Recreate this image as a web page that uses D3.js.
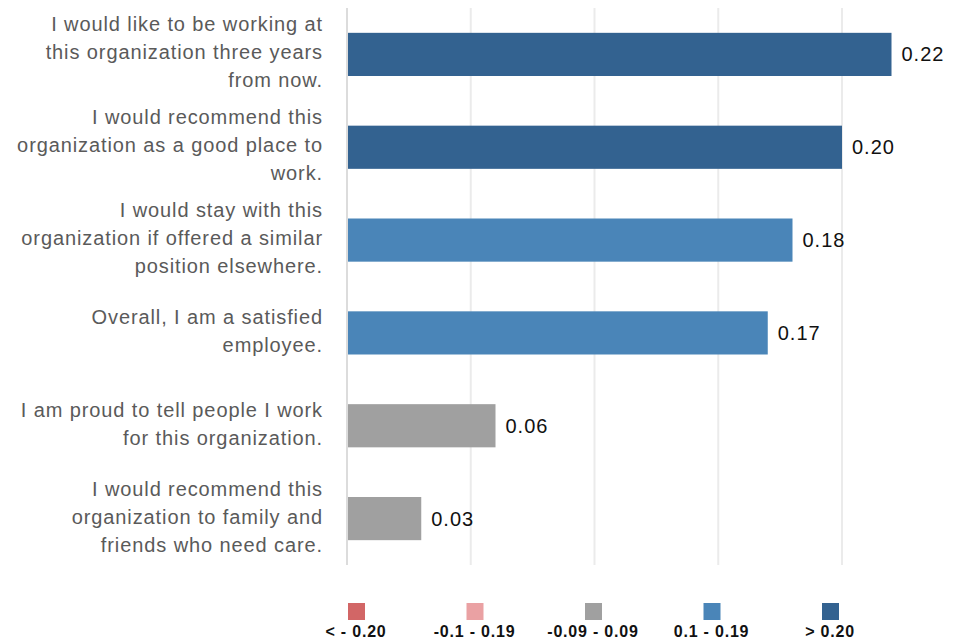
<!DOCTYPE html>
<html>
<head>
<meta charset="utf-8">
<script src="https://cdn.jsdelivr.net/npm/d3@7"></script>
<style>
  body { margin: 0; background: #fff; }
  svg { font-family: "Liberation Sans", Arial, sans-serif; }
</style>
</head>
<body>
<svg id="svg" width="961" height="639"></svg>
<script>
const statements = [
  ['I would like to be working at', 'this organization three years', 'from now.'],
  ['I would recommend this', 'organization as a good place to', 'work.'],
  ['I would stay with this', 'organization if offered a similar', 'position elsewhere.'],
  ['Overall, I am a satisfied', 'employee.'],
  ['I am proud to tell people I work', 'for this organization.'],
  ['I would recommend this', 'organization to family and', 'friends who need care.']
]
const values = [0.22, 0.20, 0.18, 0.17, 0.06, 0.03]
const ticks = [0, 0.05, 0.10, 0.15, 0.20]

const legendLabels = ['< - 0.20', '-0.1 - 0.19', '-0.09 - 0.09', '0.1 - 0.19', '> 0.20']
const legendColours = ['#d26666', '#eaa1a3', '#a0a0a0', '#4a85b8', '#336290']

const colourFor = v => {
  if (v < -0.2) return legendColours[0]
  if (v < -0.09) return legendColours[1]
  if (v < 0.1) return legendColours[2]
  if (v < 0.2) return legendColours[3]
  return legendColours[4]
}

const margin = { top: 8, bottom: 74, left: 347 }
const height = 639

const xScale = d3.scaleLinear()
  .domain([0, 0.2])
  .range([margin.left, 842])

const yScale = d3.scaleBand()
  .domain(d3.range(values.length))
  .range([margin.top, height - margin.bottom])
  .paddingInner(0.535)
  .paddingOuter(0.2675)

const svg = d3.select('#svg')

// gridlines
svg.append('g')
  .selectAll('line')
  .data(ticks)
  .enter()
  .append('line')
  .attr('x1', d => xScale(d))
  .attr('x2', d => xScale(d))
  .attr('y1', margin.top)
  .attr('y2', height - margin.bottom)
  .attr('stroke', d => d === 0 ? '#dcdcdc' : '#ebebeb')
  .attr('stroke-width', 2)

const rows = svg.append('g')
  .selectAll('g')
  .data(values)
  .enter()
  .append('g')

rows.append('rect')
  .attr('x', xScale(0) + 1)
  .attr('y', (d, i) => yScale(i))
  .attr('width', d => xScale(d) - xScale(0) - 1)
  .attr('height', yScale.bandwidth())
  .attr('fill', d => colourFor(d))

rows.append('text')
  .attr('x', d => xScale(d) + 10)
  .attr('y', (d, i) => yScale(i) + yScale.bandwidth() / 2)
  .attr('dy', '0.35em')
  .attr('font-size', 20)
  .attr('letter-spacing', 1)
  .attr('fill', '#111')
  .text(d => d.toFixed(2))

// category labels
const lineHeight = 28
rows.append('text')
  .attr('text-anchor', 'end')
  .attr('font-size', 20)
  .attr('letter-spacing', 0.9)
  .attr('fill', '#5a5a5a')
  .each(function (d, i) {
    const lines = statements[i]
    const cy = yScale(i) + yScale.bandwidth() / 2 - 2
    d3.select(this).selectAll('tspan')
      .data(lines)
      .enter()
      .append('tspan')
      .attr('x', 323)
      .attr('y', (t, j) => cy + (j - (lines.length - 1) / 2) * lineHeight)
      .attr('dy', '0.35em')
      .text(t => t)
  })

// legend
const legendX = d3.scalePoint()
  .domain(legendLabels)
  .range([356, 830])

const legend = svg.append('g')
  .selectAll('g')
  .data(legendLabels)
  .enter()
  .append('g')
  .attr('transform', d => `translate(${legendX(d)}, 0)`)

legend.append('rect')
  .attr('x', -8)
  .attr('y', 603)
  .attr('width', 17)
  .attr('height', 17)
  .attr('fill', (d, i) => legendColours[i])

legend.append('text')
  .attr('y', 637)
  .attr('text-anchor', 'middle')
  .attr('font-size', 16)
  .attr('font-weight', 'bold')
  .attr('letter-spacing', 0.8)
  .attr('fill', '#111')
  .text(d => d)
</script>
</body>
</html>
